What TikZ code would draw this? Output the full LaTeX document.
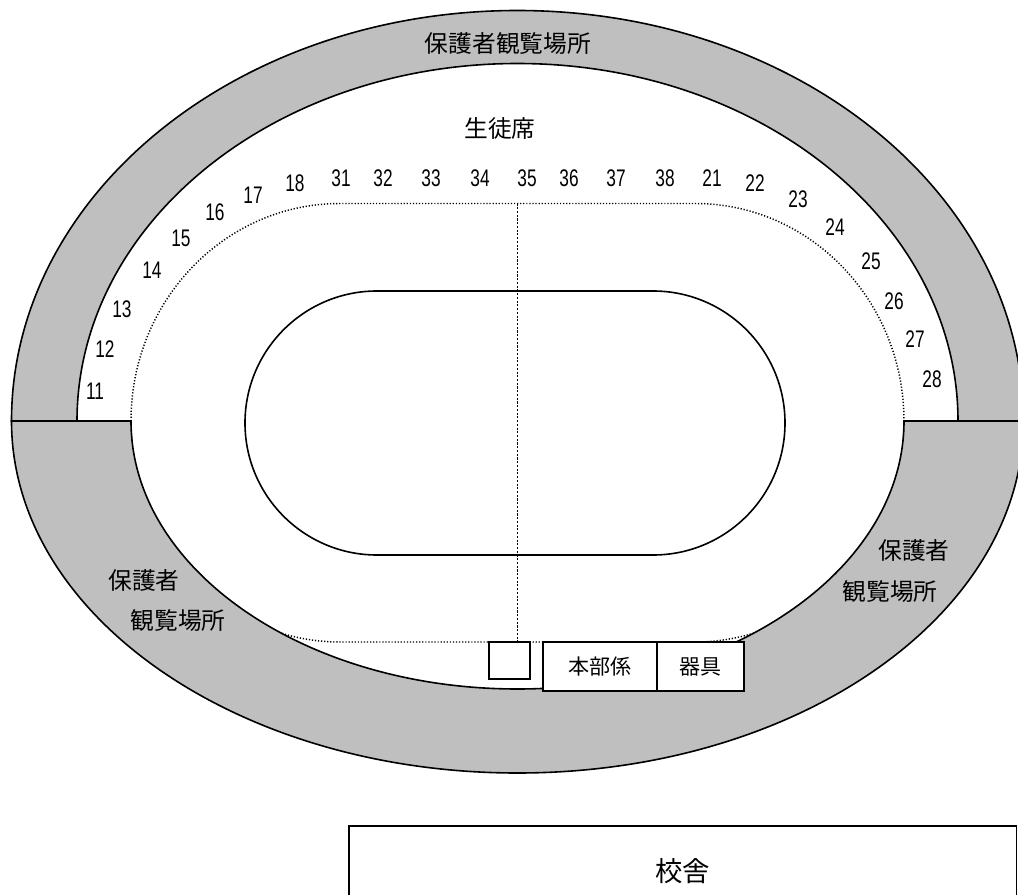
\documentclass[tikz,border=0pt]{standalone}
\usepackage{fontspec}
\setmainfont{Liberation Sans}
\newfontfamily\jpfont{Noto Sans CJK JP}
\newfontfamily\numfont[FakeStretch=0.72]{Liberation Sans}
\definecolor{standgrey}{HTML}{BFBFBF}
\tikzset{
  outline/.style={draw=black,line width=1.2pt},
  stand/.style={outline,fill=standgrey},
  dotline/.style={draw=black,line width=1.1pt,dash pattern=on .9pt off 1.4pt},
  axisline/.style={draw=black,line width=.5pt,dash pattern=on 1.6pt off 1.2pt},
  lab/.style={font=\jpfont\fontsize{17.8}{20}\selectfont,inner sep=0pt},
  num/.style={font=\numfont\fontsize{18}{20}\selectfont,inner sep=0pt},
  boxnode/.style={draw=black,line width=1.4pt,fill=white,inner sep=0pt,font=\jpfont\fontsize{15.8}{18}\selectfont},
}
\begin{document}
\begin{tikzpicture}[x=.75pt,y=-.75pt]
\useasboundingbox (0,0) rectangle (1018,895);
\clip (0,0) rectangle (1018,895);
\fill[white] (0,0) rectangle (1018,895);

% dotted field boundary
\draw[dotline] (131,421)
  arc[start angle=180,end angle=90,x radius=156.75pt,y radius=163.125pt]
  -- (695,203.5)
  arc[start angle=90,end angle=0,x radius=156.75pt,y radius=163.125pt]
  arc[start angle=0,end angle=-90,x radius=156.75pt,y radius=165.75pt]
  -- (340,642)
  arc[start angle=270,end angle=180,x radius=156.75pt,y radius=165.75pt];

% upper stand
\draw[stand] (11.5,421)
  arc[start angle=180,end angle=0,x radius=379.5pt,y radius=307.875pt]
  -- (958,421)
  arc[start angle=0,end angle=180,x radius=330.375pt,y radius=268.125pt]
  -- cycle;

% lower stand
\draw[stand] (11.5,421)
  arc[start angle=180,end angle=360,x radius=379.5pt,y radius=264pt]
  -- (904,421)
  arc[start angle=0,end angle=-180,x radius=289.875pt,y radius=201pt]
  -- cycle;

% track
\draw[outline,rounded corners=99pt] (245,291) rectangle (785,555);

% boxes
\node[boxnode,minimum width=31pt,minimum height=27.3pt] (judge) at (509.3,660.5) {};
\node[boxnode,minimum width=85.5pt,minimum height=36.75pt] (hq) at (600,666.8) {本部係};
\node[boxnode,minimum width=65.25pt,minimum height=36.75pt] (equip) at (700.5,666.8) {器具};
\node[boxnode,font=\jpfont\fontsize{20.5}{24}\selectfont,minimum width=500.6pt,minimum height=67.5pt] (school) at (682.7,870.7) {校舎};

% centre line
\coordinate (axistop) at (517.5,203.5);
\coordinate (axisbottom) at (517.5,642);
\draw[axisline] (axistop) -- (axisbottom);

% labels
\node[lab] (t1) at (508,44) {保護者観覧場所};
\node[lab] (t2) at (500,128) {生徒席};
\node[lab] (t3) at (144,580) {保護者};
\node[lab] (t4) at (178,621) {観覧場所};
\node[lab] (t5) at (914,550) {保護者};
\node[lab] (t6) at (890,592) {観覧場所};

% seat numbers
\node[num] (n11) at (95,391) {11};
\node[num] (n12) at (105,349) {12};
\node[num] (n13) at (122,309) {13};
\node[num] (n14) at (152,270) {14};
\node[num] (n15) at (181,238) {15};
\node[num] (n16) at (215,212) {16};
\node[num] (n17) at (253,195) {17};
\node[num] (n18) at (295,183) {18};
\node[num] (n31) at (341,178) {31};
\node[num] (n32) at (383,178) {32};
\node[num] (n33) at (431,178) {33};
\node[num] (n34) at (480,178) {34};
\node[num] (n35) at (527,178) {35};
\node[num] (n36) at (569,178) {36};
\node[num] (n37) at (616,178) {37};
\node[num] (n38) at (665,178) {38};
\node[num] (n21) at (712,178) {21};
\node[num] (n22) at (755,183) {22};
\node[num] (n23) at (798,199) {23};
\node[num] (n24) at (835,227) {24};
\node[num] (n25) at (871,261) {25};
\node[num] (n26) at (894,301) {26};
\node[num] (n27) at (915,339) {27};
\node[num] (n28) at (932,379) {28};
\end{tikzpicture}
\end{document}
